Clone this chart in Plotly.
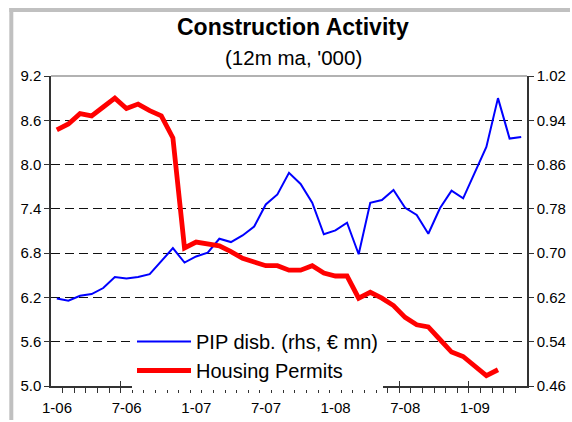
import pandas as pd
import plotly.graph_objects as go

# Monthly categories, Jan-2006 .. May-2009
months = [d.strftime("%-m-%y") for d in pd.date_range("2006-01-01", "2009-05-01", freq="MS")]

# Housing permits, 12m moving average ('000), Jan-06 .. Mar-09 (left axis)
permits = [8.47, 8.55, 8.69, 8.66, 8.78, 8.90, 8.76, 8.82, 8.73, 8.66,
           8.36, 6.87, 6.95, 6.93, 6.90, 6.82, 6.73, 6.68, 6.63, 6.63,
           6.57, 6.57, 6.63, 6.53, 6.49, 6.49, 6.19, 6.27, 6.19, 6.09,
           5.93, 5.83, 5.80, 5.63, 5.46, 5.40, 5.27, 5.14, 5.22]

# PIP disbursements, 12m moving average (EUR mn), Jan-06 .. May-09 (right axis)
pip = [0.618, 0.614, 0.623, 0.626, 0.637, 0.657, 0.654, 0.657, 0.662, 0.685,
       0.709, 0.683, 0.694, 0.701, 0.726, 0.720, 0.732, 0.748, 0.788, 0.806,
       0.845, 0.825, 0.791, 0.734, 0.741, 0.755, 0.698, 0.791, 0.796, 0.814,
       0.782, 0.769, 0.735, 0.781, 0.813, 0.799, 0.847, 0.892, 0.980, 0.907,
       0.910]

x_labels = ["1-06", "7-06", "1-07", "7-07", "1-08", "7-08", "1-09"]

font_family = "Liberation Sans, Arial, sans-serif"
axis_col = "#333333"
frame_col = "#C0C0C0"

idx = list(range(len(months)))
label_pos = [months.index(lbl) - 0.5 for lbl in x_labels]  # category boundary before each label

fig = go.Figure()
fig.add_trace(go.Scatter(
    x=idx[:len(pip)], y=pip, name="PIP disb. (rhs, € mn)", yaxis="y2",
    mode="lines", line=dict(color="#0000FF", width=2),
))
fig.add_trace(go.Scatter(
    x=idx[:len(permits)], y=permits, name="Housing Permits", yaxis="y",
    mode="lines", line=dict(color="#FF0000", width=4.8),
))

W, H = 572, 422
ml, mr, mt, mb = 51, 45, 76, 36
pw = W - ml - mr
ph = H - mt - mb

def px_x(px):
    return (px - ml) / pw

def px_y(py):
    return (H - mb - py) / ph

fig.update_layout(
    width=W, height=H,
    margin=dict(l=ml, r=mr, t=mt, b=mb, pad=0, autoexpand=False),
    paper_bgcolor="white", plot_bgcolor="white",
    font=dict(family=font_family, color="black", size=15),
    showlegend=True,
    legend=dict(
        x=px_x(132), y=px_y(322), xanchor="left", yanchor="top",
        bgcolor="white", borderwidth=0, font=dict(size=20),
        itemwidth=54, tracegroupgap=0, traceorder="normal",
    ),
    xaxis=dict(
        range=[-0.5, len(months) - 0.5], automargin=False,
        tickmode="array", tickvals=label_pos, ticktext=x_labels,
        ticks="inside", ticklen=5, tickcolor=axis_col, tickwidth=1,
        ticklabelshift=round(pw / len(months) / 2),
        ticklabelstandoff=7,
        minor=dict(tickmode="linear", tick0=-0.5, dtick=1, ticks="outside",
                   ticklen=5, tickcolor=axis_col, tickwidth=1, showgrid=False),
        showline=True, linecolor=axis_col, linewidth=1.5,
        showgrid=False, zeroline=False, fixedrange=True,
        tickfont=dict(size=15),
    ),
    yaxis=dict(
        overlaying="y2", side="left", anchor="x", automargin=False,
        range=[5.0, 9.2], tickmode="linear", tick0=5.0, dtick=0.6, tickformat=".1f",
        ticks="outside", ticklen=5, tickcolor=axis_col,
        showline=True, linecolor=axis_col, linewidth=1.5,
        showgrid=True, gridcolor="#111111", gridwidth=1, griddash="9px,5px",
        zeroline=False, tickfont=dict(size=15),
    ),
    yaxis2=dict(
        side="right", anchor="x", automargin=False,
        range=[0.46, 1.02], tickmode="linear", tick0=0.46, dtick=0.08, tickformat=".2f",
        ticks="outside", ticklen=5, tickcolor=axis_col,
        showline=True, linecolor=axis_col, linewidth=1.5,
        showgrid=False, zeroline=False, tickfont=dict(size=15),
    ),
    annotations=[
        dict(text="<b>Construction Activity</b>", x=px_x(293), y=px_y(27),
             xref="paper", yref="paper", xanchor="center", yanchor="middle",
             showarrow=False, font=dict(size=23, color="black")),
        dict(text="(12m ma, '000)", x=px_x(293), y=px_y(57),
             xref="paper", yref="paper", xanchor="center", yanchor="middle",
             showarrow=False, font=dict(size=20.5, color="black")),
    ],
    shapes=[
        # grey top edge of the plot area
        dict(type="line", xref="paper", yref="paper", x0=0, x1=1, y0=1, y1=1,
             line=dict(color="#999999", width=1.5), layer="above"),
        # outer chart frame: left and top edges
        dict(type="line", xref="paper", yref="paper",
             x0=px_x(11.3), x1=px_x(11.3), y0=px_y(8), y1=px_y(H - 2),
             line=dict(color=frame_col, width=4), layer="below"),
        dict(type="line", xref="paper", yref="paper",
             x0=px_x(9.3), x1=px_x(W - 2), y0=px_y(10), y1=px_y(10),
             line=dict(color=frame_col, width=4), layer="below"),
    ],
)

fig.write_html("out.html")
